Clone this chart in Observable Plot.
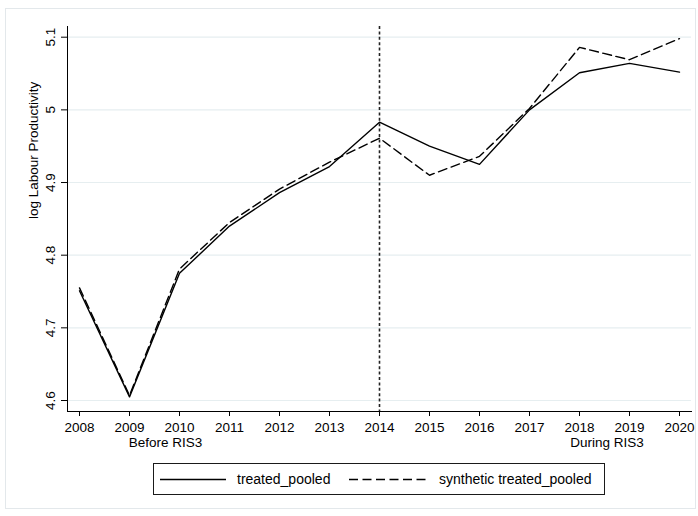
<!DOCTYPE html>
<html><head><meta charset="utf-8">
<script src="https://cdn.jsdelivr.net/npm/d3@7"></script>
<script src="https://cdn.jsdelivr.net/npm/@observablehq/plot@0.6"></script>
<style>
body{margin:0;background:#fff;font-family:"Liberation Sans",Arial,sans-serif;}
#wrap{position:relative;width:698px;height:516px;overflow:hidden;}
#chart{position:absolute;left:0;top:0;}
#border{position:absolute;left:5px;top:8px;width:691px;height:501px;border:1px solid #e3e8eb;box-sizing:border-box;pointer-events:none;}
#legend{position:absolute;left:153px;top:463px;width:452px;height:32px;border:1px solid #1a1a1a;box-sizing:border-box;}
</style></head><body>
<div id="wrap"><div id="chart"></div><div id="border"></div><div id="legend"></div></div>
<script>
const years = [2008, 2009, 2010, 2011, 2012, 2013, 2014, 2015, 2016, 2017, 2018, 2019, 2020];
const treated = [4.751, 4.605, 4.775, 4.840, 4.886, 4.922, 4.983, 4.950, 4.925, 5.000, 5.051, 5.064, 5.052];
const synthetic = [4.755, 4.607, 4.781, 4.845, 4.891, 4.928, 4.961, 4.910, 4.936, 5.002, 5.086, 5.069, 5.098];
const yTicks = [4.6, 4.7, 4.8, 4.9, 5.0, 5.1];
const yTickLabels = ["4.6", "4.7", "4.8", "4.9", "5", "5.1"];
const seriesNames = ["treated_pooled", "synthetic treated_pooled"];
const periodLabels = ["Before RIS3", "During RIS3"];
const periodYears = [2009.72, 2018.55];
const treatmentYear = 2014;
const yTitle = "log Labour Productivity";

const rows = years.map((yr, i) => ({year: yr, treated: treated[i], synthetic: synthetic[i]}));
const font = "Liberation Sans, Arial, sans-serif";

const chart = Plot.plot({
  width: 698,
  height: 455,
  marginLeft: 67,
  marginRight: 7,
  marginTop: 26,
  marginBottom: 44,
  style: {background: "transparent", color: "#000", fontFamily: font, fontSize: "13.5px"},
  x: {domain: [2008, 2020], range: [79, 679]},
  y: {domain: [4.6, 5.1], range: [400, 36.7]},
  marks: [
    Plot.gridY(yTicks, {stroke: "#e6eef0", strokeOpacity: 1, strokeWidth: 1.2}),
    Plot.frame({anchor: "left", stroke: "#000", strokeWidth: 1}),
    Plot.frame({anchor: "bottom", stroke: "#000", strokeWidth: 1}),
    Plot.axisY(yTicks, {tickSize: 6, tickRotate: -90, tickPadding: 7, label: null,
      tickFormat: (d) => yTickLabels[yTicks.indexOf(d)], fontSize: 13.5}),
    Plot.axisX(years, {tickSize: 5, tickPadding: 6, label: null, tickFormat: (d) => String(d), fontSize: 13.5}),
    Plot.text([yTitle], {frameAnchor: "left", dx: -34, rotate: -90, text: (d) => d, fontSize: 13.5, fill: "#000"}),
    Plot.text(periodLabels, {x: (d, i) => periodYears[i], frameAnchor: "bottom", dy: 35, text: (d) => d, fontSize: 13.5, fill: "#000"}),
    Plot.ruleX([treatmentYear], {stroke: "#222", strokeWidth: 1.6, strokeDasharray: "3,2.4"}),
    Plot.line(rows, {x: "year", y: "treated", stroke: "#000", strokeWidth: 1.4}),
    Plot.line(rows, {x: "year", y: "synthetic", stroke: "#000", strokeWidth: 1.4, strokeDasharray: "9,4.5"})
  ]
});
document.getElementById("chart").appendChild(chart);

// legend
const lg = d3.select("#legend").append("svg").attr("width", 450).attr("height", 30)
  .style("display", "block");
const items = [
  {name: seriesNames[0], dash: null, x0: 6, x1: 72, tx: 83},
  {name: seriesNames[1], dash: "9,4.5", x0: 195, x1: 274, tx: 285}
];
items.forEach((it) => {
  lg.append("line").attr("x1", it.x0).attr("x2", it.x1).attr("y1", 15.5).attr("y2", 15.5)
    .attr("stroke", "#000").attr("stroke-width", 1.4).attr("stroke-dasharray", it.dash);
  lg.append("text").attr("x", it.tx).attr("y", 15.5).attr("dy", "0.35em")
    .attr("font-family", font).attr("font-size", 14).attr("fill", "#000").text(it.name);
});
</script>
</body></html>
